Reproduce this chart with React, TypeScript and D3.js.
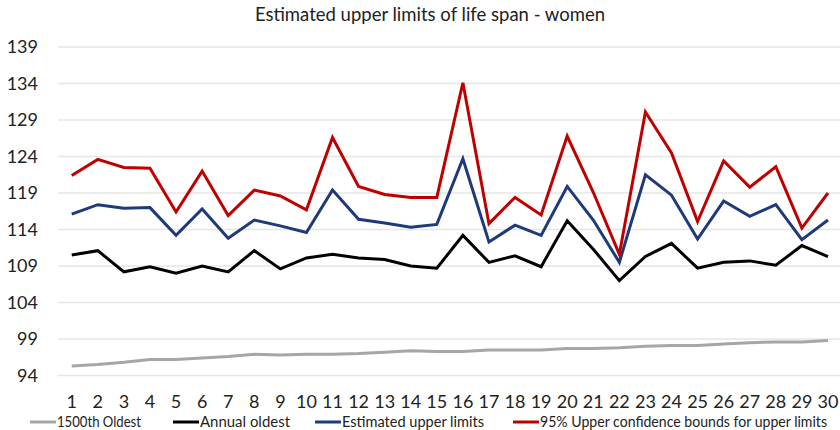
import React from 'react';
import * as d3 from 'd3';

// years 1..30
const categories = d3.range(1, 31).map(String);

const oldest1500 = [95.3, 95.5, 95.8, 96.2, 96.2, 96.4, 96.6, 96.9, 96.8, 96.9, 96.9, 97.0, 97.2, 97.4, 97.3, 97.3, 97.5, 97.5, 97.5, 97.7, 97.7, 97.8, 98.0, 98.1, 98.1, 98.3, 98.5, 98.6, 98.6, 98.8];
const annualOldest = [110.5, 111.1, 108.2, 108.9, 108.0, 109.0, 108.2, 111.1, 108.6, 110.1, 110.6, 110.1, 109.9, 109.0, 108.7, 113.2, 109.5, 110.4, 108.9, 115.2, 111.3, 107.0, 110.3, 112.1, 108.7, 109.5, 109.7, 109.1, 111.8, 110.3];
const estimatedUpper = [116.1, 117.4, 116.9, 117.0, 113.2, 116.8, 112.8, 115.3, 114.5, 113.6, 119.4, 115.4, 114.9, 114.3, 114.7, 123.7, 112.3, 114.6, 113.2, 119.9, 115.3, 109.5, 121.5, 118.7, 112.7, 117.9, 115.8, 117.4, 112.6, 115.3];
const upperBound95 = [121.4, 123.6, 122.5, 122.4, 116.4, 122.0, 115.9, 119.4, 118.6, 116.7, 126.6, 119.9, 118.8, 118.4, 118.4, 134.1, 114.8, 118.4, 116.0, 126.8, 119.1, 110.6, 130.1, 124.5, 115.1, 123.4, 119.8, 122.6, 114.2, 119.0];

const yTicks = [94, 99, 104, 109, 114, 119, 124, 129, 134, 139];

const seriesNames = ['1500th Oldest', 'Annual oldest', 'Estimated upper limits', '95% Upper confidence bounds for upper limits'];
const seriesColors = ['#a6a6a6', '#000000', '#1f3a7a', '#c00000'];
const seriesValues = [oldest1500, annualOldest, estimatedUpper, upperBound95];

const W = 840;
const H = 430;
const FONT = 'Lato, "Open Sans", sans-serif';

export default function App() {
  const x = d3.scalePoint<string>().domain(categories).range([58.7, 841]).padding(0.5);
  const y = d3.scaleLinear().domain([94, 139]).range([375.5, 47]);

  const line = d3.line<number>()
    .x((_, i) => x(categories[i])!)
    .y(d => y(d));

  const legendX = [30, 173, 315, 513];
  // label widths as measured on the original legend
  const legendW = [84, 90, 142, 287];

  return (
    <svg width={W} height={H} style={{ position: 'fixed', left: 0, top: 0, background: '#fff' }} fontFamily={FONT}>
      <rect width={W} height={H} fill="#fff" />
      <text x={430} y={21} textAnchor="middle" fontSize={18.5} fill="#222">
        Estimated upper limits of life span - women
      </text>

      {/* grid + y labels */}
      {yTicks.map(t => (
        <g key={t}>
          <line x1={58} x2={W} y1={y(t)} y2={y(t)} stroke="#e6e6e6" strokeWidth={1.5} />
          <text x={38} y={y(t)} dy="0.35em" textAnchor="end" fontSize={18} fill="#222">{t}</text>
        </g>
      ))}

      {/* x labels */}
      {categories.map(c => (
        <text key={c} x={x(c)} y={408} textAnchor="middle" fontSize={18} fill="#222">{c}</text>
      ))}

      {seriesValues.map((vals, i) => (
        <path key={i} d={line(vals)!} fill="none" stroke={seriesColors[i]} strokeWidth={3} strokeLinejoin="miter" />
      ))}

      {/* legend */}
      {seriesNames.map((name, i) => (
        <g key={name}>
          <line x1={legendX[i]} x2={legendX[i] + 26} y1={422} y2={422} stroke={seriesColors[i]} strokeWidth={3} />
          <text x={legendX[i] + 27} y={422} dy="0.35em" fontSize={14.5} fill="#222"
            textLength={legendW[i]} lengthAdjust="spacingAndGlyphs">{name}</text>
        </g>
      ))}
    </svg>
  );
}
